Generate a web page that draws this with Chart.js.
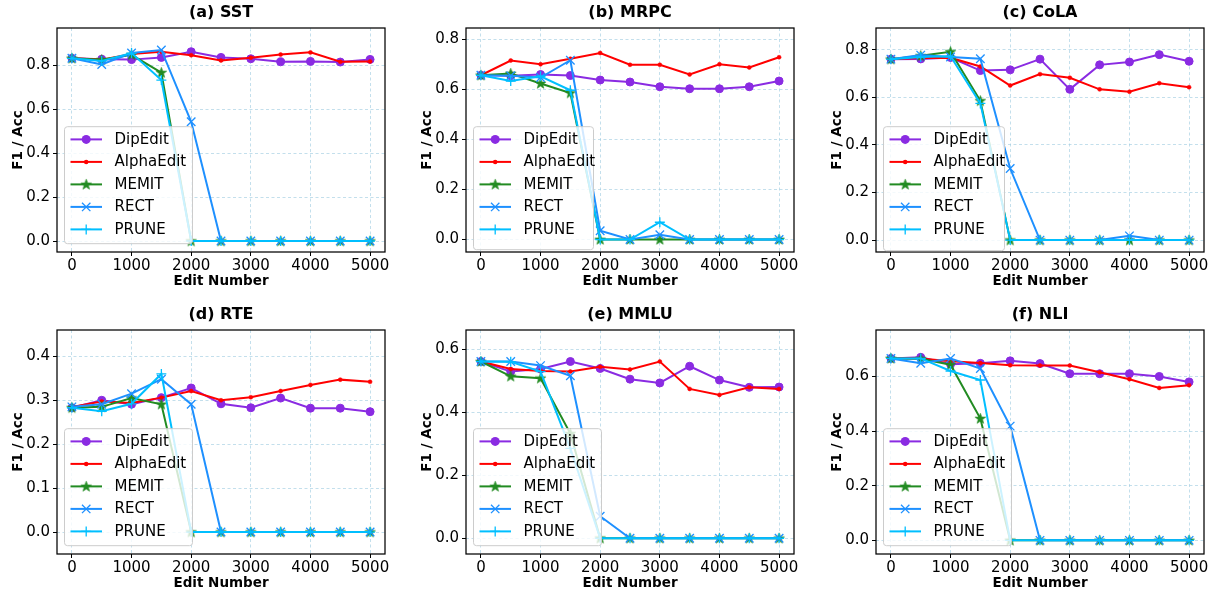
<!DOCTYPE html>
<html><head><meta charset="utf-8">
<script src="https://cdn.jsdelivr.net/npm/chart.js@4.4.1/dist/chart.umd.min.js"></script>
<style>
html,body{margin:0;padding:0;background:#fff;width:1217px;height:594px;overflow:hidden;position:relative;}
canvas{position:absolute;}
</style></head><body>
<canvas id="p0" width="405" height="294" style="left:0px;top:0px"></canvas>
<canvas id="p1" width="405" height="294" style="left:409px;top:0px"></canvas>
<canvas id="p2" width="405" height="294" style="left:819px;top:0px"></canvas>
<canvas id="p3" width="405" height="294" style="left:0px;top:302px"></canvas>
<canvas id="p4" width="405" height="294" style="left:409px;top:302px"></canvas>
<canvas id="p5" width="405" height="294" style="left:819px;top:302px"></canvas>
<script>
// ---------- data ----------
const editNumbers = [0, 500, 1000, 1500, 2000, 2500, 3000, 3500, 4000, 4500, 5000];
const methodNames = ['DipEdit', 'AlphaEdit', 'MEMIT', 'RECT', 'PRUNE'];
const xTickValues = [0, 1000, 2000, 3000, 4000, 5000];
const yTicksMain = [0, 0.2, 0.4, 0.6, 0.8];
const yTicksRTE = [0, 0.1, 0.2, 0.3, 0.4];
const yTicksLow = [0, 0.2, 0.4, 0.6];
const panelTitles = ['(a) SST', '(b) MRPC', '(c) CoLA', '(d) RTE', '(e) MMLU', '(f) NLI'];
const xAxisLabel = 'Edit Number';
const yAxisLabel = 'F1 / Acc';

// rows: DipEdit, AlphaEdit, MEMIT, RECT, PRUNE
const sstScores = [
  [0.832, 0.828, 0.826, 0.836, 0.862, 0.836, 0.830, 0.816, 0.818, 0.815, 0.827],
  [0.832, 0.826, 0.852, 0.862, 0.846, 0.822, 0.835, 0.849, 0.859, 0.816, 0.818],
  [0.832, 0.825, 0.848, 0.767, 0, 0, 0, 0, 0, 0, 0],
  [0.832, 0.804, 0.856, 0.870, 0.543, 0, 0, 0, 0, 0, 0],
  [0.832, 0.820, 0.856, 0.733, 0, 0, 0, 0, 0, 0, 0]
];
const mrpcScores = [
  [0.657, 0.655, 0.660, 0.656, 0.638, 0.630, 0.611, 0.603, 0.603, 0.611, 0.634],
  [0.657, 0.716, 0.701, 0.723, 0.746, 0.699, 0.699, 0.660, 0.701, 0.688, 0.729],
  [0.657, 0.664, 0.624, 0.586, 0, 0, 0, 0, 0, 0, 0],
  [0.657, 0.655, 0.648, 0.717, 0.035, 0, 0.019, 0, 0, 0, 0],
  [0.657, 0.634, 0.653, 0.597, 0, 0, 0.069, 0, 0, 0, 0]
];
const colaScores = [
  [0.761, 0.762, 0.768, 0.713, 0.716, 0.761, 0.634, 0.737, 0.749, 0.780, 0.752],
  [0.761, 0.766, 0.767, 0.730, 0.650, 0.698, 0.683, 0.634, 0.624, 0.660, 0.643],
  [0.761, 0.775, 0.792, 0.586, 0, 0, 0, 0, 0, 0, 0],
  [0.761, 0.778, 0.770, 0.763, 0.301, 0, 0, 0, 0.018, 0, 0],
  [0.761, 0.770, 0.773, 0.575, 0, 0, 0, 0, 0, 0, 0]
];
const rteScores = [
  [0.283, 0.300, 0.291, 0.306, 0.328, 0.292, 0.283, 0.305, 0.282, 0.282, 0.274],
  [0.285, 0.297, 0.294, 0.306, 0.321, 0.300, 0.307, 0.321, 0.335, 0.347, 0.342],
  [0.283, 0.285, 0.305, 0.291, 0, 0, 0, 0, 0, 0, 0],
  [0.285, 0.291, 0.315, 0.348, 0.291, 0, 0, 0, 0, 0, 0],
  [0.283, 0.275, 0.292, 0.360, 0, 0, 0, 0, 0, 0, 0]
];
const mmluScores = [
  [0.561, 0.529, 0.537, 0.561, 0.539, 0.505, 0.493, 0.546, 0.502, 0.479, 0.480],
  [0.561, 0.537, 0.531, 0.529, 0.544, 0.536, 0.561, 0.474, 0.455, 0.479, 0.474],
  [0.561, 0.514, 0.508, 0.332, 0, 0, 0, 0, 0, 0, 0],
  [0.561, 0.561, 0.548, 0.516, 0.070, 0, 0, 0, 0, 0, 0],
  [0.561, 0.560, 0.529, 0.285, 0, 0, 0, 0, 0, 0, 0]
];
const nliScores = [
  [0.666, 0.670, 0.645, 0.648, 0.657, 0.647, 0.610, 0.610, 0.610, 0.600, 0.580],
  [0.666, 0.666, 0.656, 0.649, 0.641, 0.640, 0.640, 0.615, 0.590, 0.558, 0.568],
  [0.666, 0.665, 0.643, 0.446, 0, 0, 0, 0, 0, 0, 0],
  [0.666, 0.648, 0.666, 0.629, 0.418, 0, 0, 0, 0, 0, 0],
  [0.666, 0.666, 0.620, 0.587, 0, 0, 0, 0, 0, 0, 0]
];

// ---------- styles ----------
const FONT = "'DejaVu Sans', 'Liberation Sans', sans-serif";
Chart.defaults.font.family = FONT;
Chart.defaults.color = '#000';
const colors = ['#8A2BE2', '#FF0000', '#228B22', '#1E90FF', '#00BFFF'];
const gridColor = 'rgba(160,205,225,0.8)';

function makeStar(color) {
  const c = document.createElement('canvas');
  c.width = 13; c.height = 13;
  const g = c.getContext('2d');
  g.beginPath();
  for (let i = 0; i < 10; i++) {
    const r = i % 2 === 0 ? 5.6 : 2.3;
    const a = -Math.PI / 2 + i * Math.PI / 5;
    const px = 6.5 + r * Math.cos(a), py = 6.8 + r * Math.sin(a);
    if (i === 0) g.moveTo(px, py); else g.lineTo(px, py);
  }
  g.closePath();
  g.fillStyle = color; g.fill();
  g.lineWidth = 0.6; g.strokeStyle = color; g.stroke();
  return c;
}
const starImg = makeStar(colors[2]);
const pointStyles = ['circle', 'circle', starImg, 'crossRot', 'cross'];
const pointRadii = [4, 2, 5, 6, 5];
const pointBorderWidths = [1, 0.5, 1, 1.3, 1.3];

function drawMarker(ctx, k, x, y) {
  ctx.save();
  ctx.fillStyle = colors[k]; ctx.strokeStyle = colors[k];
  if (k === 0 || k === 1) {
    ctx.beginPath(); ctx.arc(x, y, k === 0 ? 4.5 : 2.25, 0, Math.PI * 2); ctx.fill();
  } else if (k === 2) {
    ctx.drawImage(starImg, x - 6.5, y - 6.5);
  } else if (k === 3) {
    ctx.lineWidth = 1.3; const d = 4.2;
    ctx.beginPath(); ctx.moveTo(x - d, y - d); ctx.lineTo(x + d, y + d);
    ctx.moveTo(x + d, y - d); ctx.lineTo(x - d, y + d); ctx.stroke();
  } else {
    ctx.lineWidth = 1.3; const d = 5;
    ctx.beginPath(); ctx.moveTo(x - d, y); ctx.lineTo(x + d, y);
    ctx.moveTo(x, y - d); ctx.lineTo(x, y + d); ctx.stroke();
  }
  ctx.restore();
}

const framePlugin = {
  id: 'frame',
  afterDatasetsDraw(chart) {
    const {ctx, chartArea: a} = chart;
    ctx.save();
    ctx.strokeStyle = '#000'; ctx.lineWidth = 1.25;
    ctx.strokeRect(a.left, a.top, a.right - a.left, a.bottom - a.top);
    ctx.restore();
  }
};

const boxLegendPlugin = {
  id: 'boxLegend',
  afterDraw(chart, args, opts) {
    const {ctx, chartArea: a} = chart;
    const x = a.left + 7.5, y = a.top + 98.7, w = opts.width, h = opts.height;
    ctx.save();
    ctx.beginPath();
    ctx.roundRect(x, y, w, h, 3);
    ctx.fillStyle = 'rgba(255,255,255,0.8)'; ctx.fill();
    ctx.strokeStyle = '#cccccc'; ctx.lineWidth = 1; ctx.stroke();
    chart.data.datasets.forEach((ds, k) => {
      const cy = y + 12.7 + k * 22.5;
      ctx.strokeStyle = colors[k]; ctx.lineWidth = 2;
      ctx.beginPath(); ctx.moveTo(x + 6, cy); ctx.lineTo(x + 37.5, cy); ctx.stroke();
      drawMarker(ctx, k, x + 21.7, cy);
      ctx.fillStyle = '#000'; ctx.font = '15px ' + FONT;
      ctx.textAlign = 'left'; ctx.textBaseline = 'middle';
      ctx.fillText(ds.label, x + 50, cy + 0.5);
    });
    ctx.restore();
  }
};

const panels = [
  {scores: sstScores, yTicks: yTicksMain, lw: 128, lh: 117},
  {scores: mrpcScores, yTicks: yTicksMain, lw: 120, lh: 123},
  {scores: colaScores, yTicks: yTicksMain, lw: 121, lh: 124},
  {scores: rteScores, yTicks: yTicksRTE, lw: 128, lh: 117},
  {scores: mmluScores, yTicks: yTicksLow, lw: 128, lh: 117},
  {scores: nliScores, yTicks: yTicksLow, lw: 128, lh: 117}
];

panels.forEach((p, idx) => {
  const yMax = Math.max(...p.scores.flat()) + 0.1;
  new Chart(document.getElementById('p' + idx), {
    type: 'line',
    data: {
      datasets: methodNames.map((name, k) => ({
        label: name,
        data: editNumbers.map((x, i) => ({x: x, y: p.scores[k][i]})),
        borderColor: colors[k],
        backgroundColor: colors[k],
        borderWidth: 2,
        pointStyle: pointStyles[k],
        pointRadius: pointRadii[k],
        pointBorderWidth: pointBorderWidths[k],
        pointBackgroundColor: colors[k],
        pointBorderColor: colors[k],
        tension: 0,
        fill: false,
        order: 5 - k
      }))
    },
    options: {
      responsive: false,
      animation: false,
      events: [],
      layout: {padding: {left: 0, right: 20, top: 0, bottom: 0}},
      plugins: {
        legend: {display: false},
        tooltip: {enabled: false},
        title: {
          display: true, text: panelTitles[idx], fullSize: false, color: '#000',
          font: {size: 16, weight: 'bold'}, padding: {top: 3.4, bottom: 5.4}
        },
        boxLegend: {width: p.lw, height: p.lh}
      },
      scales: {
        x: {
          type: 'linear', min: -250, max: 5250,
          afterBuildTicks: s => { s.ticks = xTickValues.map(v => ({value: v})); },
          afterFit: s => { s.height = 42; },
          ticks: {callback: v => String(v), font: {size: 15}, color: '#000', padding: 1, maxRotation: 0, autoSkip: false},
          grid: {color: gridColor, lineWidth: 0.8, tickColor: '#000', tickLength: 4, tickWidth: 1, tickBorderDash: []},
          border: {display: false, dash: [3, 2.5]},
          title: {display: true, text: xAxisLabel, color: '#000', font: {size: 13.5, weight: 'bold'}, padding: {top: 0, bottom: 4.2}}
        },
        y: {
          type: 'linear', min: -0.05, max: yMax,
          afterBuildTicks: s => { s.ticks = p.yTicks.map(v => ({value: v})); },
          afterFit: s => { s.width = 57; },
          ticks: {callback: v => Number(v).toFixed(1), font: {size: 15}, color: '#000', padding: 3, autoSkip: false},
          grid: {color: gridColor, lineWidth: 0.8, tickColor: '#000', tickLength: 4, tickWidth: 1, tickBorderDash: []},
          border: {display: false, dash: [3, 2.5]},
          title: {display: true, text: yAxisLabel, color: '#000', font: {size: 13.5, weight: 'bold'}, padding: {top: 10.2, bottom: 0}}
        }
      }
    },
    plugins: [framePlugin, boxLegendPlugin]
  });
});
</script>
</body></html>
